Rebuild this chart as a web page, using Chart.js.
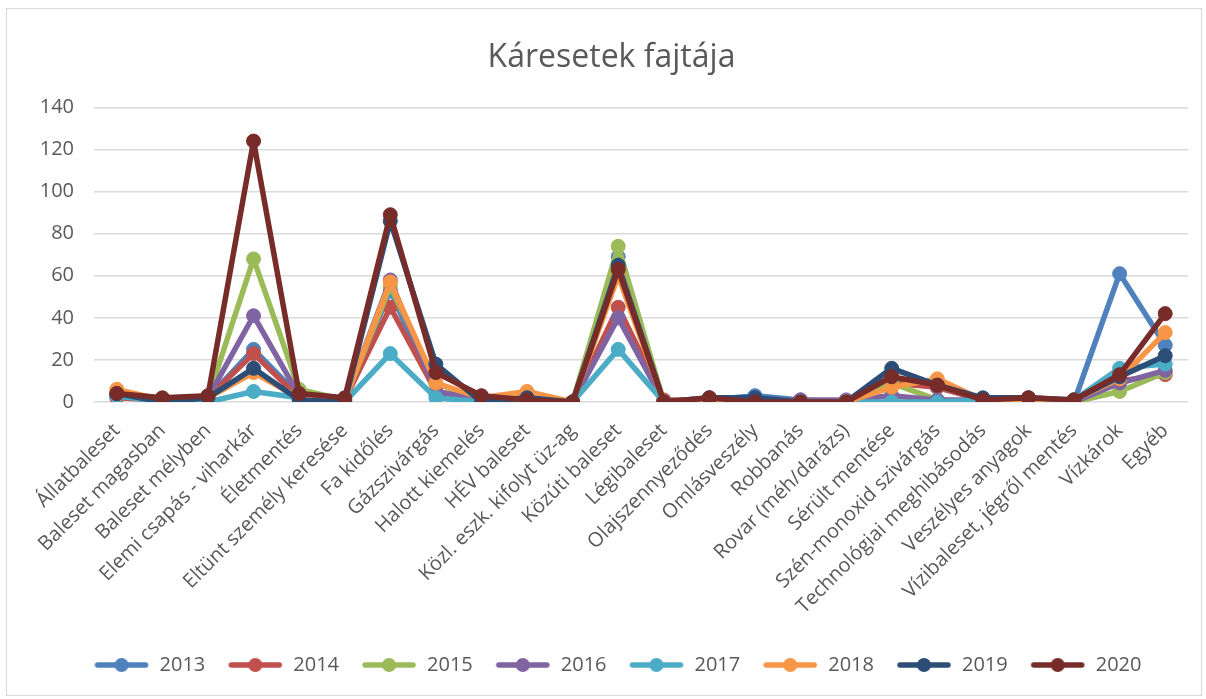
<!DOCTYPE html>
<html lang="hu">
<head>
  <meta charset="UTF-8">
  <title>Káresetek fajtája</title>
  <script src="https://cdn.jsdelivr.net/npm/chart.js"></script>
  <style>
    body {
      margin: 0;
      background: #ffffff;
      font-family: "Open Sans", sans-serif;
    }

    #chart-container {
      position: absolute;
      left: 6px;
      top: 8px;
      width: 1194px;
      height: 686px;
      border: 1px solid #d9d9d9;
      background: #ffffff;
    }
  </style>
</head>
<body>
  <div id="chart-container">
    <canvas id="chart"></canvas>
  </div>

  <script>
    // kategóriák
    const categories = [
      'Állatbaleset', 'Baleset magasban', 'Baleset mélyben', 'Elemi csapás - viharkár',
      'Életmentés', 'Eltünt személy keresése', 'Fa kidőlés', 'Gázszivárgás',
      'Halott kiemelés', 'HÉV baleset', 'Közl. eszk. kifolyt üz-ag', 'Közúti baleset',
      'Légibaleset', 'Olajszennyeződés', 'Omlásveszély', 'Robbanás',
      'Rovar (méh/darázs)', 'Sérült mentése', 'Szén-monoxid szivárgás', 'Technológiai meghibásodás',
      'Veszélyes anyagok', 'Vízibaleset, jégről mentés', 'Vízkárok', 'Egyéb'
    ];

    const years = ['2013', '2014', '2015', '2016', '2017', '2018', '2019', '2020'];

    // évenkénti értékek
    const y2013 = [3, 1, 2, 25, 3, 1, 53, 4, 1, 2, 0, 69, 0, 1, 3, 1, 0, 10, 7, 1, 1, 0, 61, 27];
    const y2014 = [2, 1, 2, 23, 2, 1, 45, 5, 1, 2, 0, 45, 1, 1, 1, 0, 0, 9, 7, 1, 1, 0, 10, 13];
    const y2015 = [3, 1, 2, 68, 6, 1, 55, 9, 1, 2, 0, 74, 0, 1, 1, 0, 0, 9, 1, 0, 1, 0, 5, 14];
    const y2016 = [3, 1, 2, 41, 3, 1, 58, 5, 1, 1, 0, 40, 0, 1, 1, 1, 1, 3, 1, 1, 1, 0, 9, 15];
    const y2017 = [3, 0, 0, 5, 2, 0, 23, 2, 0, 1, 0, 25, 0, 1, 1, 0, 0, 0, 0, 1, 1, 1, 16, 18];
    const y2018 = [6, 1, 2, 14, 2, 1, 57, 9, 2, 5, 0, 60, 0, 0, 1, 0, 0, 7, 11, 1, 0, 1, 11, 33];
    const y2019 = [4, 0, 2, 16, 1, 0, 86, 18, 0, 2, 0, 65, 0, 2, 2, 0, 0, 16, 8, 2, 2, 1, 12, 22];
    const y2020 = [4, 2, 3, 124, 4, 2, 89, 14, 3, 1, 0, 63, 0, 2, 0, 0, 0, 12, 8, 1, 2, 1, 13, 42];

    const yTicks = [0, 20, 40, 60, 80, 100, 120, 140];

    const seriesValues = [y2013, y2014, y2015, y2016, y2017, y2018, y2019, y2020];
    const colors = ['#4f81bd', '#c0504d', '#9bbb59', '#8064a2', '#4bacc6', '#f79646', '#2c4d75', '#772c2a'];

    const textColor = '#595959';

    // jelmagyarázat ikon: vonal + kör
    function legendIcon(color) {
      const c = document.createElement('canvas');
      c.width = 56;
      c.height = 16;
      const g = c.getContext('2d');
      g.strokeStyle = color;
      g.lineWidth = 5.5;
      g.lineCap = 'round';
      g.beginPath();
      g.moveTo(4, 8);
      g.lineTo(52, 8);
      g.stroke();
      g.fillStyle = color;
      g.beginPath();
      g.arc(28, 8, 7, 0, Math.PI * 2);
      g.fill();
      return c;
    }

    // jelmagyarázat kicsit jobbra, mint az eredetin
    const legendShift = {
      id: 'legendShift',
      afterLayout(chart) {
        chart.legend.left += 6;
        chart.legend.right += 6;
      },
    };

    // 2020 legyen legfelül, mint az eredetin
    const datasets = years.map((year, i) => ({
      label: year,
      data: seriesValues[i],
      borderColor: colors[i],
      backgroundColor: colors[i],
      pointBackgroundColor: colors[i],
      pointBorderColor: colors[i],
      borderWidth: 5.5,
      borderJoinStyle: 'round',
      borderCapStyle: 'round',
      pointRadius: 7,
      pointBorderWidth: 1,
      pointHoverRadius: 7,
      pointStyle: 'circle',
      tension: 0,
      order: years.length - i,
    }));

    const ctx = document.getElementById('chart').getContext('2d');

    new Chart(ctx, {
      type: 'line',
      data: {
        labels: categories,
        datasets: datasets,
      },
      plugins: [legendShift],
      options: {
        responsive: true,
        maintainAspectRatio: false,
        animation: false,
        layout: {
          padding: { left: 28, right: 13, top: 0, bottom: 10 },
        },
        plugins: {
          title: {
            display: true,
            text: 'Káresetek fajtája',
            color: textColor,
            font: { family: 'Open Sans', size: 32, weight: 'normal' },
            padding: { top: 30, bottom: 30 },
          },
          legend: {
            display: true,
            position: 'bottom',
            labels: {
              color: textColor,
              font: { family: 'Open Sans', size: 20 },
              usePointStyle: true,
              pointStyleWidth: 56,
              padding: 22,
              generateLabels: (chart) => chart.data.datasets.map((ds, i) => ({
                text: ds.label,
                fillStyle: ds.borderColor,
                strokeStyle: ds.borderColor,
                fontColor: textColor,
                pointStyle: legendIcon(ds.borderColor),
                lineWidth: 0,
                datasetIndex: i,
                hidden: false,
              })),
            },
          },
          tooltip: { enabled: false },
        },
        scales: {
          x: {
            offset: true,
            grid: { display: false },
            border: { display: false },
            ticks: {
              color: textColor,
              font: { family: 'Open Sans', size: 20 },
              minRotation: 45,
              maxRotation: 45,
              autoSkip: false,
              padding: 9,
            },
            afterFit: (scale) => { scale.height = 231; },
          },
          y: {
            min: 0,
            max: 140,
            afterBuildTicks: (scale) => { scale.ticks = yTicks.map(v => ({ value: v })); },
            grid: { color: '#d9d9d9', lineWidth: 1.5, drawTicks: false },
            border: { display: false },
            ticks: {
              color: textColor,
              font: { family: 'Open Sans', size: 20 },
              padding: 20,
            },
            afterFit: (scale) => { scale.width = 59; },
          },
        },
      },
    });
  </script>
</body>
</html>
